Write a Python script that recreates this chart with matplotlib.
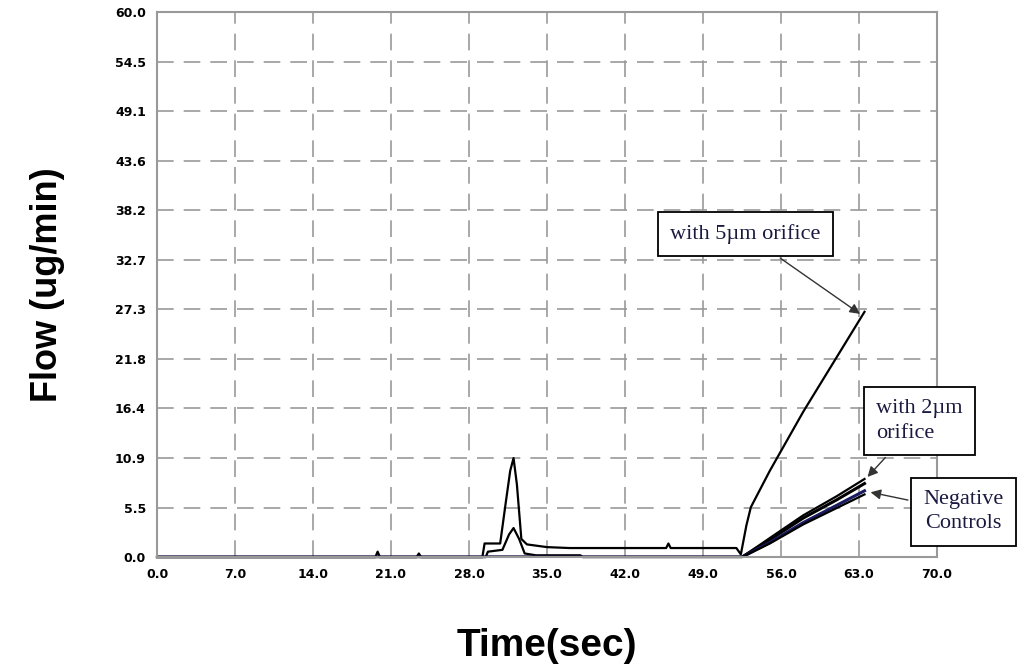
import numpy as np
import matplotlib.pyplot as plt

# values
yticks = [i * 60.0 / 11 for i in range(12)]
xticks = [0, 7, 14, 21, 28, 35, 42, 49, 56, 63, 70]

t_5um = [0, 19.6, 19.8, 20.0, 29.2, 29.4, 30.8, 31.3, 31.7, 32.0, 32.3, 32.7, 33.2, 35.0,
         37.0, 45.7, 45.9, 46.1, 52.0, 52.4, 52.9, 53.3, 55.0, 58.0, 61.0, 63.5]
f_5um = [0, 0, 0.6, 0, 0, 1.5, 1.5, 6.0, 9.5, 10.9, 8.0, 2.0, 1.4, 1.1,
         1.0, 1.0, 1.5, 1.0, 1.0, 0.3, 3.5, 5.5, 9.5, 16.0, 22.0, 27.0]

t_2um_a = [0, 23.3, 23.5, 23.7, 29.5, 29.7, 31.0, 31.6, 32.0, 32.5, 33.0, 34.0, 38.0,
           38.2, 52.5, 55.0, 58.0, 61.0, 63.5]
f_2um_a = [0, 0, 0.4, 0, 0, 0.6, 0.8, 2.5, 3.2, 2.0, 0.4, 0.2, 0.2,
           0, 0, 2.1, 4.6, 6.7, 8.6]
t_2um_b = [0, 52.5, 55.0, 58.0, 61.0, 63.5]
f_2um_b = [0, 0, 1.9, 4.3, 6.3, 8.1]

t_neg_a = [0, 52.5, 55.0, 58.0, 61.0, 63.5]
f_neg_a = [0, 0, 1.6, 3.8, 5.7, 7.3]
t_neg_b = [0, 52.5, 55.0, 58.0, 61.0, 63.5]
f_neg_b = [0, 0, 1.5, 3.6, 5.4, 6.9]

fig = plt.figure(figsize=(10.33, 6.68), dpi=100)
ax = fig.add_axes([0.152, 0.166, 0.755, 0.816])

ax.plot(t_5um, f_5um, color='black', lw=1.6, clip_on=False)
ax.plot(t_2um_a, f_2um_a, color='black', lw=1.6, clip_on=False)
ax.plot(t_2um_b, f_2um_b, color='black', lw=2.2)
ax.plot(t_neg_a, f_neg_a, color='#1a1a60', lw=2.2)
ax.plot(t_neg_b, f_neg_b, color='black', lw=1.6)

ax.set_xlim(0, 70)
ax.set_ylim(0, 60)
ax.set_xticks(xticks)
ax.set_xticklabels(['%.1f' % v for v in xticks], fontsize=9, fontweight='bold')
ax.set_yticks(yticks)
ax.set_yticklabels(['%.1f' % v for v in yticks], fontsize=9, fontweight='bold')
ax.tick_params(length=0, pad=8)
ax.grid(True, color='#999999', linestyle=(0, (10, 6)), lw=1.2)
for s in ax.spines.values():
    s.set_color('#999999')
    s.set_linewidth(1.5)

ax.set_xlabel('Time(sec)', fontsize=28, fontweight='bold', family='Liberation Sans', labelpad=34)
ax.set_ylabel('Flow (ug/min)', fontsize=26, fontweight='bold', family='Liberation Sans', labelpad=36)

box = dict(boxstyle='square,pad=0.55', fc='white', ec='black', lw=1.3)
arrow = dict(arrowstyle='-|>', color='#333333', lw=1, mutation_scale=15)
txt = dict(family='Liberation Serif', fontsize=16, color='#1a1a40', va='center',
           bbox=box, annotation_clip=False, arrowprops=arrow, linespacing=1.4)
ax.annotate('with 5\u00b5m orifice', xy=(63.3, 26.6), xytext=(52.8, 35.6), ha='center', **txt)
ax.annotate('with 2\u00b5m\norifice', xy=(63.6, 8.6), xytext=(68.4, 15.0), ha='center',
            multialignment='left', **txt)
ax.annotate('Negative\nControls', xy=(63.8, 7.2), xytext=(72.4, 5.0), ha='center', **txt)

fig.savefig('out.png', dpi=100)
